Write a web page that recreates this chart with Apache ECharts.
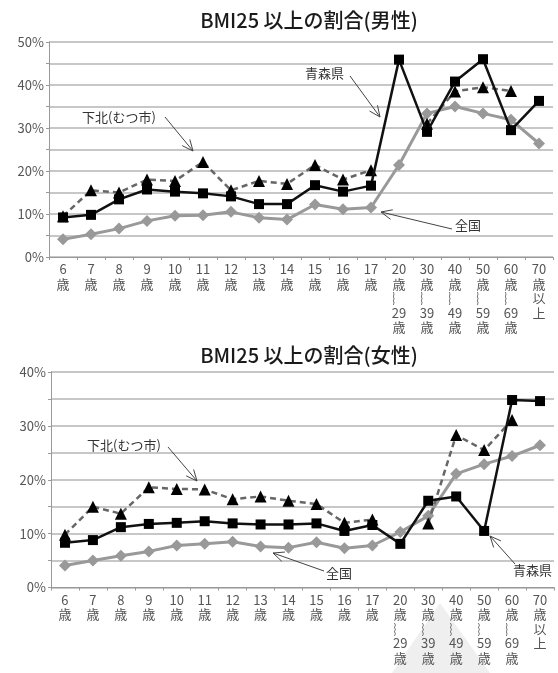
<!DOCTYPE html>
<html><head><meta charset="utf-8">
<script src="https://cdn.jsdelivr.net/npm/echarts@6/dist/echarts.min.js"></script>
<style>html,body{margin:0;padding:0;background:#fff}#c{width:558px;height:673px}</style>
</head><body><div id="c"></div>
<script>
const categories = ['6\n歳','7\n歳','8\n歳','9\n歳','10\n歳','11\n歳','12\n歳','13\n歳','14\n歳','15\n歳','16\n歳','17\n歳',
  '20\n歳\n︴\n29\n歳','30\n歳\n︴\n39\n歳','40\n歳\n︴\n49\n歳','50\n歳\n︴\n59\n歳','60\n歳\n︴\n69\n歳','70\n歳\n以\n上'];
const maleNational  = [4.1,5.3,6.6,8.4,9.6,9.7,10.5,9.1,8.7,12.2,11.1,11.5,21.4,33.4,35.0,33.4,31.9,26.4];
const maleAomori    = [9.2,9.8,13.4,15.7,15.2,14.8,14.1,12.3,12.3,16.7,15.2,16.6,45.9,29.1,40.8,46.0,29.5,36.3];
const maleShimokita = [9.5,15.5,15.0,18.0,17.7,22.1,15.5,17.7,17.0,21.4,18.0,20.2,null,31.0,38.5,39.5,38.6,null];
const femaleNational  = [4.1,5.0,5.9,6.7,7.8,8.1,8.5,7.6,7.4,8.4,7.3,7.8,10.3,13.3,21.1,22.9,24.4,26.4];
const femaleAomori    = [8.3,8.8,11.2,11.8,12.0,12.3,11.9,11.7,11.7,11.9,10.5,11.6,8.1,16.1,16.9,10.5,34.8,34.6];
const femaleShimokita = [9.8,15.0,13.7,18.6,18.3,18.2,16.4,16.9,16.1,15.5,12.0,12.6,null,11.9,28.3,25.5,31.1,null];
const titles = ['BMI25 以上の割合(男性)','BMI25 以上の割合(女性)'];
const seriesNames = ['全国','下北(むつ市)','青森県'];

const FONT = '"Noto Sans CJK JP","Noto Sans",sans-serif';
const chart = echarts.init(document.getElementById('c'));

function xAxis(gi){
  return {type:'category',gridIndex:gi,data:categories,boundaryGap:true,
    axisLine:{lineStyle:{color:'#999',width:1}},
    axisTick:{show:true,length:3,lineStyle:{color:'#999'}},
    axisLabel:{color:'#555',fontSize:13,lineHeight:14.5,margin:5,fontFamily:FONT,interval:0}};
}
function yAxis(gi,max){
  return {type:'value',gridIndex:gi,min:0,max:max,interval:5,
    axisLine:{show:true,lineStyle:{color:'#999',width:1}},
    axisTick:{show:true,length:3,lineStyle:{color:'#999'}},
    splitLine:{lineStyle:{color:'#b4b4b4',width:1.5}},
    axisLabel:{color:'#555',fontSize:13,margin:5,fontFamily:FONT,
      formatter:v=> (v%10===0? v+'%':'')}};
}
function seriesSet(gi,nat,aom,shi){
  return [
    {name:seriesNames[0],type:'line',xAxisIndex:gi,yAxisIndex:gi,data:nat,symbol:'diamond',symbolSize:12,
      lineStyle:{color:'#999',width:3},itemStyle:{color:'#999'},z:2},
    {name:seriesNames[1],type:'line',xAxisIndex:gi,yAxisIndex:gi,data:shi,symbol:'triangle',symbolSize:12,connectNulls:false,
      lineStyle:{color:'#666',width:2.5,type:[6,4]},itemStyle:{color:'#000'},z:3},
    {name:seriesNames[2],type:'line',xAxisIndex:gi,yAxisIndex:gi,data:aom,symbol:'rect',symbolSize:10,
      lineStyle:{color:'#111',width:2.5},itemStyle:{color:'#000'},z:4}
  ];
}
function arrow(x1,y1,x2,y2){
  const a=Math.atan2(y2-y1,x2-x1), L=12, w=0.42;
  const p1=[x2-L*Math.cos(a-w), y2-L*Math.sin(a-w)], p2=[x2-L*Math.cos(a+w), y2-L*Math.sin(a+w)];
  return [
    {type:'line',shape:{x1,y1,x2,y2},style:{stroke:'#444',lineWidth:1},z:100},
    {type:'polyline',shape:{points:[p1,[x2,y2],p2]},style:{stroke:'#444',fill:null,lineWidth:1},z:100}
  ];
}
function label(text,x,y,align){
  return {type:'text',x:x,y:y,z:100,style:{text:text,font:'13px '+FONT,fill:'#333',textAlign:align||'left',textVerticalAlign:'middle',
    backgroundColor:'#fff'}};
}
const graphics = [
  {type:'polygon',shape:{points:[[440,603],[392,673],[490,673]]},style:{fill:'#efefef'},z:-10},
  {type:'text',x:309,y:20,style:{text:titles[0],font:'500 20px '+FONT,fill:'#1a1a1a',textAlign:'center',textVerticalAlign:'middle'}},
  {type:'text',x:309,y:355,style:{text:titles[1],font:'500 20px '+FONT,fill:'#1a1a1a',textAlign:'center',textVerticalAlign:'middle'}},
  label(seriesNames[1],82,117), ...arrow(165,117,193,151),
  label(seriesNames[2],305,73), ...arrow(350,76,380,117),
  label(seriesNames[0],455,225), ...arrow(452,229,381,212),
  label(seriesNames[1],87,445), ...arrow(168,447,197,481),
  label(seriesNames[0],326,573), ...arrow(324,571,273,553),
  label(seriesNames[2],513,570), ...arrow(515,564,490,536)
];

chart.setOption({
  backgroundColor:'#fff',
  animation:false,
  grid:[{left:49,right:5,top:42,height:215},{left:51,right:4,top:372,height:215.5}],
  xAxis:[xAxis(0),xAxis(1)],
  yAxis:[yAxis(0,50),yAxis(1,40)],
  series:[...seriesSet(0,maleNational,maleAomori,maleShimokita),...seriesSet(1,femaleNational,femaleAomori,femaleShimokita)],
  graphic:graphics
});
</script></body></html>
